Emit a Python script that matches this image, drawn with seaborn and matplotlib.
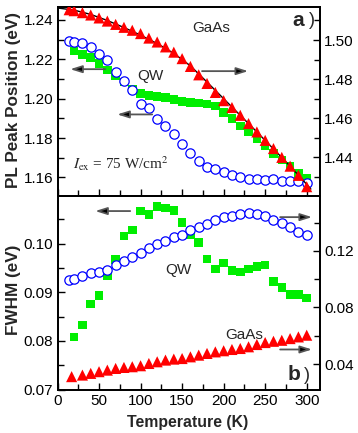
import matplotlib
matplotlib.use("Agg")
import matplotlib.pyplot as plt
import seaborn as sns
from matplotlib.ticker import MultipleLocator, FixedLocator

# ---------------- data ----------------
# (a) PL peak position
T_pl_sq = [20, 30, 40, 50, 60, 70, 80, 90, 100, 110, 120, 130, 140, 150, 160, 170, 180, 190,
           200, 210, 220, 230, 240, 250, 260, 270, 280, 290, 300]
qw_pl_sq = [1.2243, 1.2225, 1.2210, 1.2180, 1.2146, 1.2115, 1.2085, 1.2050, 1.2026, 1.2017,
            1.2010, 1.2005, 1.1997, 1.1985, 1.1980, 1.1978, 1.1972, 1.1962, 1.1930, 1.1898,
            1.1862, 1.1832, 1.1798, 1.1760, 1.1722, 1.1688, 1.1655, 1.1620, 1.1595]

T_pl_ci = [14, 20, 30, 40, 50, 60, 70, 80, 90, 100, 110, 120, 130, 140, 150, 160, 170, 180, 190,
           200, 210, 220, 230, 240, 250, 260, 270, 280, 290, 300]
qw_pl_ci = [1.2294, 1.2289, 1.2284, 1.2261, 1.2227, 1.2199, 1.2136, 1.2089, 1.2043, 1.1975,
            1.1955, 1.1895, 1.1859, 1.1823, 1.1771, 1.1722, 1.1682, 1.1655, 1.1643, 1.1626,
            1.1614, 1.1604, 1.1590, 1.1590, 1.1586, 1.1592, 1.1581, 1.1583, 1.1581, 1.1573]

T_gaas_pl = [14, 20, 30, 40, 50, 60, 70, 80, 90, 100, 110, 120, 130, 140, 150, 160, 170, 180,
             190, 200, 210, 220, 230, 240, 250, 260, 270, 280, 290, 300]
gaas_pl = [1.5155, 1.5150, 1.5140, 1.5128, 1.5113, 1.5097, 1.5080, 1.5065, 1.5050, 1.5033,
           1.5010, 1.4990, 1.4965, 1.4938, 1.4905, 1.4865, 1.4822, 1.4778, 1.4732, 1.4690,
           1.4655, 1.4615, 1.4573, 1.4530, 1.4487, 1.4445, 1.4400, 1.4355, 1.4308, 1.4250]

T_fit = [0, 20, 40, 60, 80, 100, 120, 140, 160, 180, 200, 220, 240, 260, 280, 300, 305]
gaas_fit = [1.5164, 1.5153, 1.5131, 1.5100, 1.5064, 1.5025, 1.4982, 1.4932, 1.4868, 1.4785,
            1.4700, 1.4615, 1.4530, 1.4443, 1.4355, 1.4262, 1.4238]

# (b) FWHM
T_fw_sq = [20, 30, 40, 50, 60, 70, 80, 90, 100, 110, 120, 130, 140, 150, 160, 170, 180, 190,
           200, 210, 220, 230, 240, 250, 260, 270, 280, 290, 300]
qw_fw_sq = [0.0808, 0.0833, 0.0876, 0.0893, 0.0933, 0.0967, 0.1016, 0.1028, 0.1067, 0.1060,
            0.1076, 0.1073, 0.1068, 0.1043, 0.1019, 0.1002, 0.0968, 0.0948, 0.0960, 0.0945,
            0.0942, 0.0948, 0.0953, 0.0956, 0.0922, 0.0910, 0.0895, 0.0895, 0.0888]

T_fw_ci = [14, 20, 30, 40, 50, 60, 70, 80, 90, 100, 110, 120, 130, 140, 150, 160, 170, 180, 190,
           200, 210, 220, 230, 240, 250, 260, 270, 280, 290, 300]
qw_fw_ci = [0.0996, 0.1003, 0.1026, 0.1043, 0.1050, 0.1066, 0.1097, 0.1127, 0.1156, 0.1184,
            0.1221, 0.1249, 0.1273, 0.1296, 0.1315, 0.1348, 0.1371, 0.1390, 0.1418, 0.1442,
            0.1449, 0.1461, 0.1465, 0.1461, 0.1449, 0.1418, 0.1395, 0.1371, 0.1332, 0.1315]

T_gaas_fw = [17, 30, 40, 50, 60, 70, 80, 90, 100, 110, 120, 130, 140, 150, 160, 170, 180, 190,
             200, 210, 220, 230, 240, 250, 260, 270, 280, 290, 300]
gaas_fw = [0.0311, 0.0322, 0.0334, 0.0346, 0.0357, 0.0369, 0.0376, 0.0381, 0.0388, 0.0404,
           0.0416, 0.0428, 0.0435, 0.0439, 0.0451, 0.0463, 0.0475, 0.0486, 0.0494, 0.0503,
           0.0510, 0.0522, 0.0538, 0.0552, 0.0561, 0.0568, 0.0580, 0.0592, 0.0604]

x_ticks = [0, 50, 100, 150, 200, 250, 300]
pl_left_ticks = [1.16, 1.18, 1.20, 1.22, 1.24]
pl_right_ticks = [1.44, 1.46, 1.48, 1.50]
fw_left_ticks = [0.07, 0.08, 0.09, 0.10]
fw_right_ticks = [0.04, 0.08, 0.12]

# ---------------- style ----------------
sns.set_style("ticks")
plt.rcParams["font.family"] = ["Liberation Sans", "DejaVu Sans"]
plt.rcParams["mathtext.fontset"] = "stix"

RED = "#ff0000"
GREEN = "#00ee00"
BLUE = "#0000ff"
FS = 11

fig = plt.figure(figsize=(3.58, 4.33), dpi=100)
L, W = 57.5 / 358, 262.5 / 358
ax1 = fig.add_axes([L, 1 - 195.5 / 433, W, 188.5 / 433])
ax3 = fig.add_axes([L, 1 - 389.5 / 433, W, 194 / 433])
ax2 = ax1.twinx()
ax4 = ax3.twinx()

sq_s, ci_s, tr_s = 38, 45, 64

# panel a
sns.scatterplot(x=T_pl_sq, y=qw_pl_sq, ax=ax1, marker="s", s=sq_s, color=GREEN,
                edgecolor="none", linewidth=0, zorder=2)
sns.scatterplot(x=T_pl_ci, y=qw_pl_ci, ax=ax1, marker="o", s=ci_s, facecolor="white",
                edgecolor=BLUE, linewidth=0.9, zorder=3)
sns.lineplot(x=T_fit, y=gaas_fit, ax=ax2, color="black", linewidth=1.0, zorder=2)
sns.scatterplot(x=T_gaas_pl, y=gaas_pl, ax=ax2, marker="^", s=tr_s, color=RED,
                edgecolor="none", linewidth=0, zorder=3)

# panel b
sns.scatterplot(x=T_fw_sq, y=qw_fw_sq, ax=ax3, marker="s", s=sq_s, color=GREEN,
                edgecolor="none", linewidth=0, zorder=2)
sns.scatterplot(x=T_fw_ci, y=qw_fw_ci, ax=ax4, marker="o", s=ci_s, facecolor="white",
                edgecolor=BLUE, linewidth=0.9, zorder=3)
sns.scatterplot(x=T_gaas_fw, y=gaas_fw, ax=ax4, marker="^", s=tr_s, color=RED,
                edgecolor="none", linewidth=0, zorder=3)

# limits
for a in (ax1, ax2, ax3, ax4):
    a.set_xlim(0, 316)
ax1.set_ylim(1.1508, 1.2466)
ax2.set_ylim(1.4205, 1.5169)
ax3.set_ylim(0.0700, 0.1099)
ax4.set_ylim(0.0220, 0.1592)

# ticks
for a in (ax1, ax3):
    a.xaxis.set_major_locator(FixedLocator(x_ticks))
    a.xaxis.set_minor_locator(MultipleLocator(25))
ax1.yaxis.set_major_locator(FixedLocator(pl_left_ticks))
ax1.yaxis.set_minor_locator(MultipleLocator(0.01))
ax2.yaxis.set_major_locator(FixedLocator(pl_right_ticks))
ax2.yaxis.set_minor_locator(MultipleLocator(0.01))
ax3.yaxis.set_major_locator(FixedLocator(fw_left_ticks))
ax3.yaxis.set_minor_locator(MultipleLocator(0.005))
ax4.yaxis.set_major_locator(FixedLocator(fw_right_ticks))
ax4.yaxis.set_minor_locator(MultipleLocator(0.02))

ax1.set_yticklabels([f"{v:.2f}" for v in pl_left_ticks])
ax2.set_yticklabels([f"{v:.2f}" for v in pl_right_ticks])
ax3.set_yticklabels([f"{v:.2f}" for v in fw_left_ticks])
ax4.set_yticklabels([f"{v:.2f}" for v in fw_right_ticks])
ax3.set_xticklabels([str(v) for v in x_ticks])

for a in (ax1, ax2, ax3, ax4):
    a.tick_params(which="both", direction="in", labelsize=FS, width=1.0, pad=3,
                  top=False, colors="black")
    a.tick_params(which="major", length=5)
    a.tick_params(which="minor", length=4)
    for sp in a.spines.values():
        sp.set_visible(True)
        sp.set_linewidth(1.3)
        sp.set_color("black")
ax1.tick_params(axis="x", labelbottom=False)
ax2.tick_params(axis="x", labelbottom=False)
ax1.tick_params(axis="y", left=True, right=False)
ax3.tick_params(axis="y", left=True, right=False)
ax2.tick_params(axis="y", right=True, left=False)
ax4.tick_params(axis="y", right=True, left=False)
ax4.tick_params(axis="x", bottom=False, labelbottom=False)
ax2.tick_params(axis="x", bottom=False)

for a in (ax1, ax2, ax3, ax4):
    a.set_xlabel("")
    a.set_ylabel("")
    a.grid(False)

# labels
fig.text(14 / 358, 1 - 100 / 433, "PL Peak Position (eV)", rotation=90, ha="center",
         va="center", fontsize=12.3, fontweight="bold")
fig.text(14 / 358, 1 - 290 / 433, "FWHM (eV)", rotation=90, ha="center", va="center",
         fontsize=12.3, fontweight="bold")
fig.text(188 / 358, 1 - 423 / 433, "Temperature (K)", ha="center", va="center",
         fontsize=11.4, fontweight="bold")

# annotations panel a
ax1.text(0.585, 0.889, "GaAs", transform=ax1.transAxes, ha="center", va="center", fontsize=FS)
ax1.text(0.352, 0.634, "QW", transform=ax1.transAxes, ha="center", va="center", fontsize=FS)
ax1.text(0.918, 0.899, "a", transform=ax1.transAxes, ha="center", va="baseline",
         fontsize=15, fontweight="bold")
ax1.text(0.970, 0.926, ")", transform=ax1.transAxes, ha="center", va="center", fontsize=13)
ax1.text(0.059, 0.167, r"$I_{\mathrm{ex}}$ = 75 W/cm$^{2}$", transform=ax1.transAxes,
         ha="left", va="center", fontsize=FS, family=["Liberation Serif"])

# annotations panel b
ax3.text(0.459, 0.616, "QW", transform=ax3.transAxes, ha="center", va="center", fontsize=FS)
ax3.text(0.710, 0.281, "GaAs", transform=ax3.transAxes, ha="center", va="center", fontsize=FS)
ax3.text(0.900, 0.049, "b", transform=ax3.transAxes, ha="center", va="baseline",
         fontsize=15, fontweight="bold")
ax3.text(0.949, 0.070, ")", transform=ax3.transAxes, ha="center", va="center", fontsize=13)

arrow_kw = dict(arrowstyle="-|>,head_length=0.7,head_width=0.22", fc="black",
                ec="#555555", lw=1.3, shrinkA=0, shrinkB=0, mutation_scale=10)


def arrow(ax, tail, head):
    ax.annotate("", xy=head, xytext=tail, xycoords="data", textcoords="data",
                arrowprops=arrow_kw, zorder=5)


arrow(ax1, (57.4, 1.2150), (15.3, 1.2150))
arrow(ax1, (114.0, 1.1920), (71.9, 1.1920))
arrow(ax2, (174.0, 1.4841), (229.5, 1.4841))
arrow(ax3, (87.5, 0.1067), (45.4, 0.1067))
arrow(ax4, (268.0, 0.1439), (306.4, 0.1439))
arrow(ax4, (268.0, 0.0503), (306.4, 0.0503))

fig.savefig("out.png", dpi=100)
